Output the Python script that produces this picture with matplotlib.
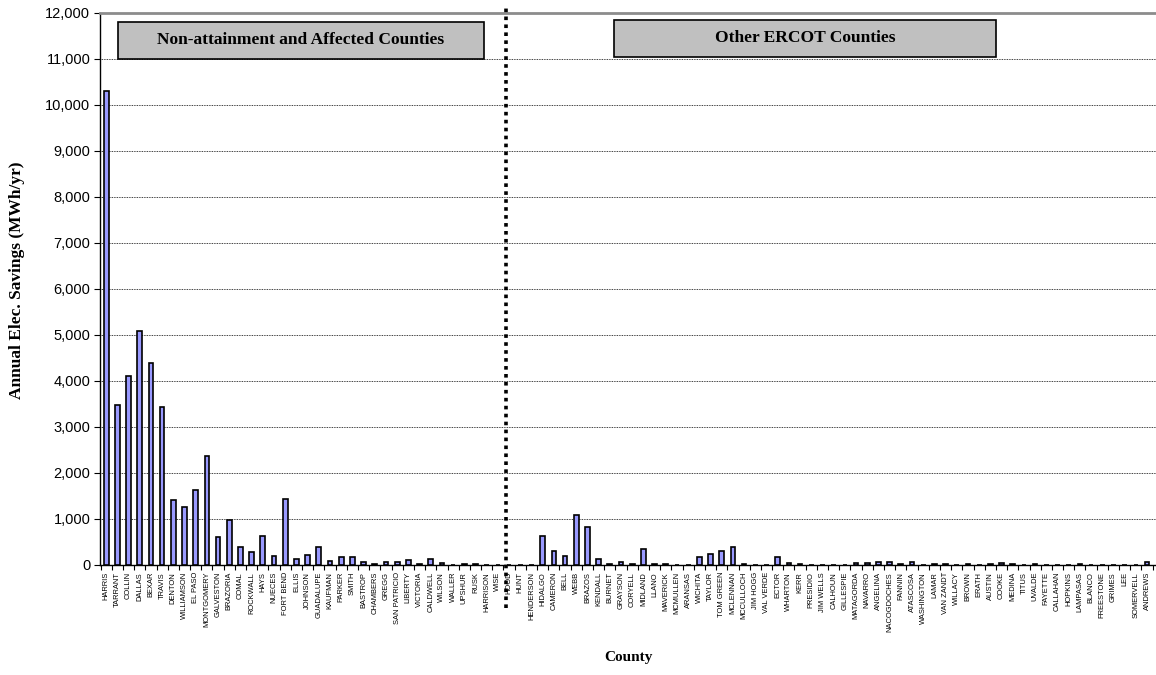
import matplotlib
matplotlib.use("Agg")
import matplotlib.pyplot as plt
from matplotlib.lines import Line2D
import numpy as np

# Counties in the non-attainment / affected group
group1_counties = [
    "HARRIS", "TARRANT", "COLLIN", "DALLAS", "BEXAR", "TRAVIS", "DENTON",
    "WILLIAMSON", "EL PASO", "MONTGOMERY", "GALVESTON", "BRAZORIA", "COMAL",
    "ROCKWALL", "HAYS", "NUECES", "FORT BEND", "ELLIS", "JOHNSON", "GUADALUPE",
    "KAUFMAN", "PARKER", "SMITH", "BASTROP", "CHAMBERS", "GREGG",
    "SAN PATRICIO", "LIBERTY", "VICTORIA", "CALDWELL", "WILSON", "WALLER",
    "UPSHUR", "RUSK", "HARRISON", "WISE",
]
group1_savings = [
    10300, 3480, 4100, 5080, 4400, 3440, 1410,
    1270, 1630, 2360, 610, 980, 390,
    290, 640, 190, 1435, 123, 217, 384,
    87, 181, 174, 65, 15, 65,
    72, 116, 29, 123, 36, 5,
    20, 15, 0, 0,
]

# Remaining ERCOT counties
group2_counties = [
    "HOOD", "HUNT", "HENDERSON", "HIDALGO", "CAMERON", "BELL", "WEBB",
    "BRAZOS", "KENDALL", "BURNET", "GRAYSON", "CORYELL", "MIDLAND", "LLANO",
    "MAVERICK", "MCMULLEN", "ARANSAS", "WICHITA", "TAYLOR", "TOM GREEN",
    "MCLENNAN", "MCCULLOCH", "JIM HOGG", "VAL VERDE", "ECTOR", "WHARTON",
    "KERR", "PRESIDIO", "JIM WELLS", "CALHOUN", "GILLESPIE", "MATAGORDA",
    "NAVARRO", "ANGELINA", "NACOGDOCHES", "FANNIN", "ATASCOSA", "WASHINGTON",
    "LAMAR", "VAN ZANDT", "WILLACY", "BROWN", "ERATH", "AUSTIN", "COOKE",
    "MEDINA", "TITUS", "UVALDE", "FAYETTE", "CALLAHAN", "HOPKINS",
    "LAMPASAS", "BLANCO", "FREESTONE", "GRIMES", "LEE", "SOMERVELL",
    "ANDREWS",
]
group2_savings = [
    0, 0, 0, 638, 312, 203, 1094,
    826, 130, 15, 65, 22, 355, 29,
    15, 0, 0, 167, 246, 312,
    384, 20, 0, 10, 167, 43,
    20, 0, 0, 0, 10, 36,
    36, 65, 58, 15, 72, 5,
    29, 15, 10, 25, 0, 15, 40,
    15, 10, 15, 0, 0, 10,
    15, 0, 0, 10, 10, 0,
    75,
]

group_titles = ["Non-attainment and Affected Counties", "Other ERCOT Counties"]
y_ticks = list(range(0, 12001, 1000))

counties = group1_counties + group2_counties
savings = group1_savings + group2_savings
x = np.arange(len(counties))

W, H = 1156, 675
fig = plt.figure(figsize=(W / 100, H / 100), dpi=100)
ax = fig.add_axes([100 / W, 1 - 565 / H, 1 - 100 / W, 552 / H])

ax.bar(x, savings, width=0.42, color="#9999FF", edgecolor="black",
       linewidth=1.2, zorder=3)

ax.set_xlim(-0.55, 93.8)
ax.set_ylim(0, 12000)

# y axis
ax.set_yticks(y_ticks)
ax.set_yticklabels([f"{v:,}" for v in y_ticks], fontfamily="Liberation Sans",
                   fontsize=10.5)
ax.tick_params(axis="y", direction="out", length=4, width=0.8, pad=3)
ax.yaxis.grid(True, color="black", linestyle=(0, (1, 1)), linewidth=0.6)
ax.set_axisbelow(True)

# x axis: labels at category centres, tick marks at category boundaries
ax.set_xticks(x)
ax.set_xticklabels(counties, rotation=90, fontfamily="Liberation Sans",
                   fontsize=5.4, va="top", ha="center")
ax.tick_params(axis="x", which="major", length=0, pad=5)
ax.set_xticks(np.arange(-0.5, len(counties) + 0.5, 1), minor=True)
ax.tick_params(axis="x", which="minor", direction="out", length=3.5, width=0.8)

for side in ["left", "bottom"]:
    ax.spines[side].set_color("black")
    ax.spines[side].set_linewidth(1.0)
ax.spines["right"].set_visible(False)
ax.spines["top"].set_color("#8c8c8c")
ax.spines["top"].set_linewidth(2.0)

ax.set_ylabel("Annual Elec. Savings (MWh/yr)", fontfamily="Liberation Serif",
              fontweight="bold", fontsize=12.5, labelpad=13)
ax.yaxis.set_label_coords(-0.071, 0.515)
ax.set_xlabel("County", fontfamily="Liberation Serif", fontweight="bold",
              fontsize=11, labelpad=14)

# divider between the two county groups
split = len(group1_counties) - 0.3
divider = Line2D([split, split], [-0.078, 1.01],
                 transform=ax.get_xaxis_transform(), color="black",
                 linewidth=2.6, linestyle=(0, (1, 1.2)), clip_on=False,
                 zorder=5)
ax.add_line(divider)

# group title boxes (pixel extents on the figure)
boxes = [(118, 484, 22, 59), (614, 996, 20, 57)]
for (x0, x1, y0, y1), title in zip(boxes, group_titles):
    fx0, fx1 = x0 / W, x1 / W
    fy0, fy1 = 1 - y1 / H, 1 - y0 / H
    rect = plt.Rectangle((fx0, fy0), fx1 - fx0, fy1 - fy0,
                         transform=fig.transFigure, facecolor="#C0C0C0",
                         edgecolor="black", linewidth=1.2, zorder=6)
    fig.add_artist(rect)
    fig.text((fx0 + fx1) / 2, (fy0 + fy1) / 2, title,
             fontfamily="Liberation Serif", fontweight="bold", fontsize=12.5,
             ha="center", va="center", zorder=7)

fig.savefig("out.png", dpi=100)
